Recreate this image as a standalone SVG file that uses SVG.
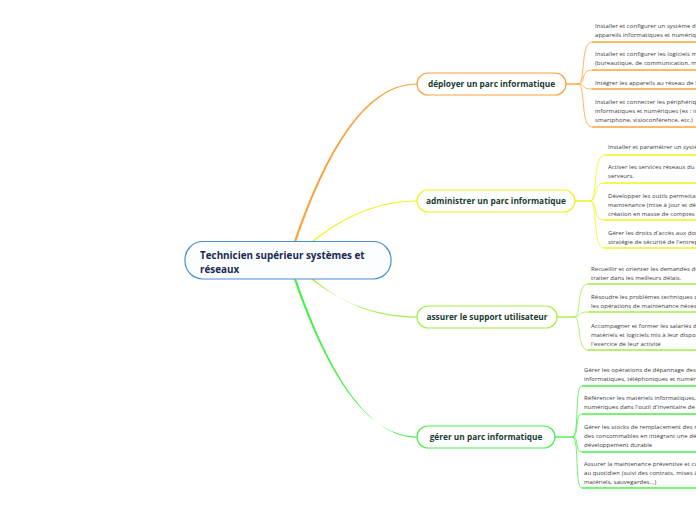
<svg xmlns="http://www.w3.org/2000/svg" width="696" height="520" viewBox="0 0 696 520">
<style>
.root{fill:#fbfdff;stroke:#4a90d0;stroke-width:1.2}
.rt{font-family:"Open Sans",sans-serif;font-weight:bold;font-size:9.9px;fill:#1a2a50}
.bt{font-family:"Open Sans",sans-serif;font-weight:bold;font-size:8.3px;fill:#1b3c33;text-anchor:middle}
.lt{font-family:"Open Sans",sans-serif;font-size:6px;letter-spacing:0.05px;fill:#3a3a3a}
.bn{fill:#ffffff;stroke-width:1.2}
.fan{fill:none;stroke-width:0.8}
.ul{fill:none;stroke-width:1.4}
.o{stroke:#f7a33a}.y{stroke:#f0f020}.lg{stroke:#a2ee44}.g{stroke:#4aee4a}
</style>
<g id="connectors">
<path d="M293.8,242 C329,140 369,83.4 417,83.4 L417,84.6 C371,84.6 331,140 296.2,242 Z" fill="#f7a33a"/>
<path d="M310.8,242 C345,214.4 380,200.4 417,200.4 L417,201.6 C380,201.6 346,215.6 313.4,242 Z" fill="#f0f020"/>
<path d="M310.8,279 C345,305.4 380,316.4 417,316.4 L417,317.6 C380,317.6 346,306.6 313.4,279 Z" fill="#a2ee44"/>
<path d="M293.8,279 C329,380 369,436.4 417,436.4 L417,437.6 C371,437.6 331,380 296.2,279 Z" fill="#4aee4a"/>
<path class="ul o" d="M566,84 H578"/>
<path class="ul y" d="M575,201 H590"/>
<path class="ul lg" d="M557,317 H574"/>
<path class="ul g" d="M555,437 H572"/>
<g class="fan o">
<path d="M578,84 C586,84 580,42 592,42"/>
<path d="M578,84 C586,84 580,70 592,70"/>
<path d="M578,84 C586,84 580,89 592,89"/>
<path d="M578,84 C586,84 580,127 592,127"/>
</g>
<g class="ul o">
<path d="M592,42 H696"/><path d="M592,70 H696"/><path d="M592,89 H696"/><path d="M592,127 H696"/>
</g>
<g class="fan y">
<path d="M590,201 C598,201 592,155 605,155"/>
<path d="M590,201 C598,201 592,183 604,183"/>
<path d="M590,201 C598,201 592,220 604,220"/>
<path d="M590,201 C598,201 592,248 604,248"/>
</g>
<g class="ul y">
<path d="M605,155 H696"/><path d="M604,183 H696"/><path d="M604,220 H696"/><path d="M604,248 H696"/>
</g>
<g class="fan lg">
<path d="M574,317 C582,317 576,284 588,284"/>
<path d="M574,317 C582,317 576,312 588,312"/>
<path d="M574,317 C582,317 576,350 588,350"/>
</g>
<g class="ul lg">
<path d="M588,284 H696"/><path d="M588,312 H696"/><path d="M588,350 H696"/>
</g>
<g class="fan g">
<path d="M572,437 C580,437 574,386 582,386"/>
<path d="M572,437 C580,437 574,414 582,414"/>
<path d="M572,437 C580,437 574,452 582,452"/>
<path d="M572,437 C580,437 574,488 582,488"/>
</g>
<g class="ul g">
<path d="M582,386 H696"/><path d="M582,414 H696"/><path d="M582,452 H696"/><path d="M582,488 H696"/>
</g>
</g>
<g id="root">
<rect class="root" x="185" y="241.5" width="206" height="37.5" rx="18"/>
<text class="rt" x="200" y="259">Technicien supérieur systèmes et</text>
<text class="rt" x="200" y="272.5">réseaux</text>
</g>
<g id="b1">
<rect class="bn o" x="417" y="73" width="149" height="22" rx="11"/>
<text class="bt" x="491.5" y="87">déployer un parc informatique</text>
</g>
<g id="b2">
<rect class="bn y" x="417" y="190" width="158" height="22" rx="11"/>
<text class="bt" x="496" y="204">administrer un parc informatique</text>
</g>
<g id="b3">
<rect class="bn lg" x="417" y="306" width="140" height="22" rx="11"/>
<text class="bt" x="487" y="320">assurer le support utilisateur</text>
</g>
<g id="b4">
<rect class="bn g" x="417" y="426" width="138" height="22" rx="11"/>
<text class="bt" x="486" y="440">gérer un parc informatique</text>
</g>
<g id="l1"><text class="lt" x="595" y="28">Installer et configurer un système d</text><text class="lt" x="595" y="37">appareils informatiques et numériqu</text></g>
<g id="l2"><text class="lt" x="595" y="56">Installer et configurer les logiciels m</text><text class="lt" x="595" y="65">(bureautique, de communication, mé</text></g>
<g id="l3"><text class="lt" x="595" y="85">Intégrer les appareils au réseau de l</text></g>
<g id="l4"><text class="lt" x="595" y="104">Installer et connecter les périphériqu</text><text class="lt" x="595" y="113">informatiques et numériques (ex : im</text><text class="lt" x="595" y="122">smartphone, visioconférence, etc.)</text></g>
<g id="l5"><text class="lt" x="608" y="149">Installer et paramétrer un systè</text></g>
<g id="l6"><text class="lt" x="608" y="169">Activer les services réseaux du</text><text class="lt" x="608" y="178">serveurs.</text></g>
<g id="l7"><text class="lt" x="608" y="198">Développer les outils permettan</text><text class="lt" x="608" y="207">maintenance (mise à jour et dép</text><text class="lt" x="608" y="216">création en masse de comptes</text></g>
<g id="l8"><text class="lt" x="608" y="235">Gérer les droits d'accès aux don</text><text class="lt" x="608" y="244">stratégie de sécurité de l'entrep</text></g>
<g id="l9"><text class="lt" x="591" y="271">Recueillir et orienter les demandes de</text><text class="lt" x="591" y="280">traiter dans les meilleurs délais.</text></g>
<g id="l10"><text class="lt" x="591" y="299">Résoudre les problèmes techniques d</text><text class="lt" x="591" y="308">les opérations de maintenance nécess</text></g>
<g id="l11"><text class="lt" x="591" y="328">Accompagner et former les salariés da</text><text class="lt" x="591" y="337">matériels et logiciels mis à leur dispos</text><text class="lt" x="591" y="346">l'exercice de leur activité</text></g>
<g id="l12"><text class="lt" x="584" y="372">Gérer les opérations de dépannage des</text><text class="lt" x="584" y="381">informatiques, téléphoniques et numéric</text></g>
<g id="l13"><text class="lt" x="584" y="400">Référencer les matériels informatiques,</text><text class="lt" x="584" y="409">numériques dans l'outil d'inventaire de g</text></g>
<g id="l14"><text class="lt" x="584" y="429">Gérer les stocks de remplacement des m</text><text class="lt" x="584" y="438">des consommables en intégrant une dér</text><text class="lt" x="584" y="447">développement durable</text></g>
<g id="l15"><text class="lt" x="584" y="466">Assurer la maintenance préventive et cu</text><text class="lt" x="584" y="475">au quotidien (suivi des contrats, mises à</text><text class="lt" x="584" y="484">matériels, sauvegardes...)</text></g>
</svg>
